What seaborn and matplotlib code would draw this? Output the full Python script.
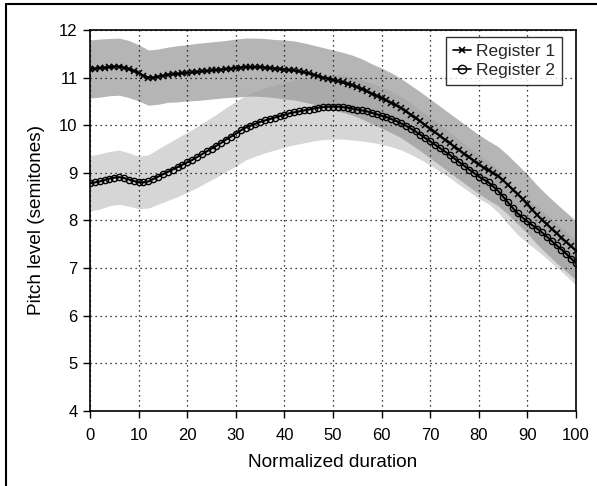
import numpy as np
import pandas as pd
import matplotlib
matplotlib.use("Agg")
import matplotlib.pyplot as plt
from matplotlib.lines import Line2D
import seaborn as sns

# Normalized time points (percent of duration)
duration = list(range(0, 101))

# Mean pitch contours (semitones)
register1 = [11.18, 11.19, 11.20, 11.21, 11.22, 11.23, 11.23, 11.21, 11.18, 11.14,
             11.10, 11.04, 11.00, 11.00, 11.02, 11.04, 11.06, 11.07, 11.08, 11.09,
             11.10, 11.11, 11.12, 11.13, 11.14, 11.15, 11.16, 11.17, 11.18, 11.19,
             11.20, 11.21, 11.22, 11.22, 11.22, 11.22, 11.21, 11.20, 11.19, 11.18,
             11.17, 11.16, 11.15, 11.13, 11.11, 11.09, 11.06, 11.03, 11.00, 10.98,
             10.95, 10.93, 10.90, 10.87, 10.84, 10.80, 10.76, 10.71, 10.66, 10.62,
             10.57, 10.52, 10.47, 10.42, 10.36, 10.29, 10.22, 10.15, 10.08, 10.00,
             9.93, 9.85, 9.78, 9.70, 9.63, 9.55, 9.48, 9.40, 9.33, 9.25,
             9.18, 9.11, 9.05, 8.99, 8.93, 8.84, 8.75, 8.65, 8.55, 8.45,
             8.35, 8.23, 8.12, 8.02, 7.92, 7.82, 7.73, 7.64, 7.55, 7.46, 7.37]
register2 = [8.78, 8.80, 8.82, 8.85, 8.88, 8.90, 8.91, 8.89, 8.86, 8.83,
             8.80, 8.80, 8.82, 8.87, 8.92, 8.97, 9.02, 9.07, 9.12, 9.17,
             9.22, 9.27, 9.33, 9.39, 9.45, 9.51, 9.57, 9.63, 9.70, 9.76,
             9.82, 9.89, 9.95, 9.99, 10.03, 10.07, 10.10, 10.13, 10.16, 10.19,
             10.22, 10.25, 10.27, 10.29, 10.31, 10.33, 10.35, 10.37, 10.38, 10.39,
             10.39, 10.39, 10.38, 10.37, 10.35, 10.33, 10.31, 10.29, 10.26, 10.23,
             10.20, 10.17, 10.13, 10.09, 10.04, 9.99, 9.93, 9.87, 9.80, 9.73,
             9.66, 9.59, 9.52, 9.45, 9.38, 9.30, 9.22, 9.15, 9.07, 9.00,
             8.92, 8.86, 8.80, 8.71, 8.62, 8.50, 8.38, 8.26, 8.15, 8.06,
             7.98, 7.90, 7.83, 7.75, 7.66, 7.57, 7.48, 7.39, 7.30, 7.20, 7.10]

# Spread around each contour (semitones), sampled every 2 % of duration
band_duration = list(range(0, 101, 2))
spread1 = [0.61, 0.61, 0.60, 0.60, 0.60, 0.59, 0.58, 0.58, 0.58, 0.59,
           0.59, 0.60, 0.60, 0.60, 0.60, 0.61, 0.61, 0.61, 0.61, 0.61,
           0.62, 0.62, 0.62, 0.62, 0.63, 0.63, 0.63, 0.63, 0.63, 0.63,
           0.63, 0.63, 0.62, 0.62, 0.62, 0.62, 0.62, 0.62, 0.62, 0.62,
           0.62, 0.62, 0.62, 0.62, 0.62, 0.62, 0.62, 0.62, 0.62, 0.62, 0.62]
spread2 = [0.58, 0.58, 0.57, 0.57, 0.56, 0.55, 0.56, 0.58, 0.60, 0.62,
           0.63, 0.64, 0.65, 0.66, 0.67, 0.68, 0.68, 0.68, 0.68, 0.68,
           0.68, 0.68, 0.68, 0.68, 0.68, 0.68, 0.67, 0.66, 0.64, 0.62,
           0.60, 0.58, 0.56, 0.54, 0.52, 0.50, 0.49, 0.48, 0.47, 0.46,
           0.46, 0.45, 0.45, 0.45, 0.45, 0.45, 0.46, 0.46, 0.46, 0.46, 0.46]

x_ticks = list(range(0, 101, 10))
y_ticks = list(range(4, 13))

sns.set_theme(style="white")
plt.rcParams["font.family"] = ["Liberation Sans", "DejaVu Sans"]

df1 = pd.DataFrame({"duration": duration, "pitch": register1})
df2 = pd.DataFrame({"duration": duration, "pitch": register2})

fig = plt.figure(figsize=(5.97, 4.86), dpi=100)
ax = fig.add_axes([0.1508, 0.1543, 0.8140, 0.7840])

# Variability bands around the means
bd = np.array(band_duration)
m1 = np.array(register1)[::2]
m2 = np.array(register2)[::2]
s1 = np.array(spread1)
s2 = np.array(spread2)
ax.fill_between(bd, m2 - s2, m2 + s2, color="#d2d2d2", alpha=0.9, linewidth=0, zorder=1)
ax.fill_between(bd, m1 - s1, m1 + s1, color="#9c9c9c", alpha=0.75, linewidth=0, zorder=2)

# Mean contours
sns.lineplot(data=df1, x="duration", y="pitch", color="black", marker="x",
             markersize=4.5, markeredgewidth=1.1, markeredgecolor="black",
             linewidth=1.5, ax=ax, zorder=3)
sns.lineplot(data=df2, x="duration", y="pitch", color="black", marker="o",
             markersize=4.5, markeredgewidth=1.0, markerfacecolor="none",
             markeredgecolor="black", linewidth=1.5, ax=ax, zorder=3)

ax.set_xlim(0, 100)
ax.set_ylim(4, 12)
ax.set_xticks(x_ticks)
ax.set_yticks(y_ticks)
ax.tick_params(axis="both", direction="out", length=5, width=1, color="black",
               labelsize=12, labelcolor="black", bottom=True, left=True)
ax.tick_params(axis="x", pad=7)
ax.tick_params(axis="y", pad=4)
ax.grid(True, color="black", linestyle=(0, (1, 3)), linewidth=0.9, zorder=0)
ax.set_axisbelow(False)
for side, sp in ax.spines.items():
    sp.set_color("black")
    sp.set_linewidth(1.2)
    sp.set_zorder(5)

ax.set_xlabel("Normalized duration", fontsize=13.7, color="black", labelpad=8)
ax.set_ylabel("Pitch level (semitones)", fontsize=13.7, color="black", labelpad=10)

handles = [
    Line2D([], [], color="black", marker="x", markersize=5, markeredgewidth=1.2,
           linewidth=1.2, label="Register 1"),
    Line2D([], [], color="black", marker="o", markerfacecolor="none", markersize=6,
           linewidth=1.2, label="Register 2"),
]
leg = ax.legend(handles=handles, loc="upper right", bbox_to_anchor=(0.978, 0.99),
                fontsize=12.5, frameon=True, fancybox=False, handlelength=1.0,
                handletextpad=0.3, borderpad=0.4, labelspacing=0.2, borderaxespad=0.2)
leg.get_frame().set_edgecolor("black")
leg.get_frame().set_linewidth(1.0)
leg.set_zorder(6)

# Outer frame lines
fig.add_artist(Line2D([6 / 597, 6 / 597], [0, 1 - 4 / 486], transform=fig.transFigure,
                      color="black", linewidth=1.5))
fig.add_artist(Line2D([6 / 597, 1], [1 - 4 / 486, 1 - 4 / 486], transform=fig.transFigure,
                      color="black", linewidth=1.5))

fig.savefig("out.png", dpi=100)
